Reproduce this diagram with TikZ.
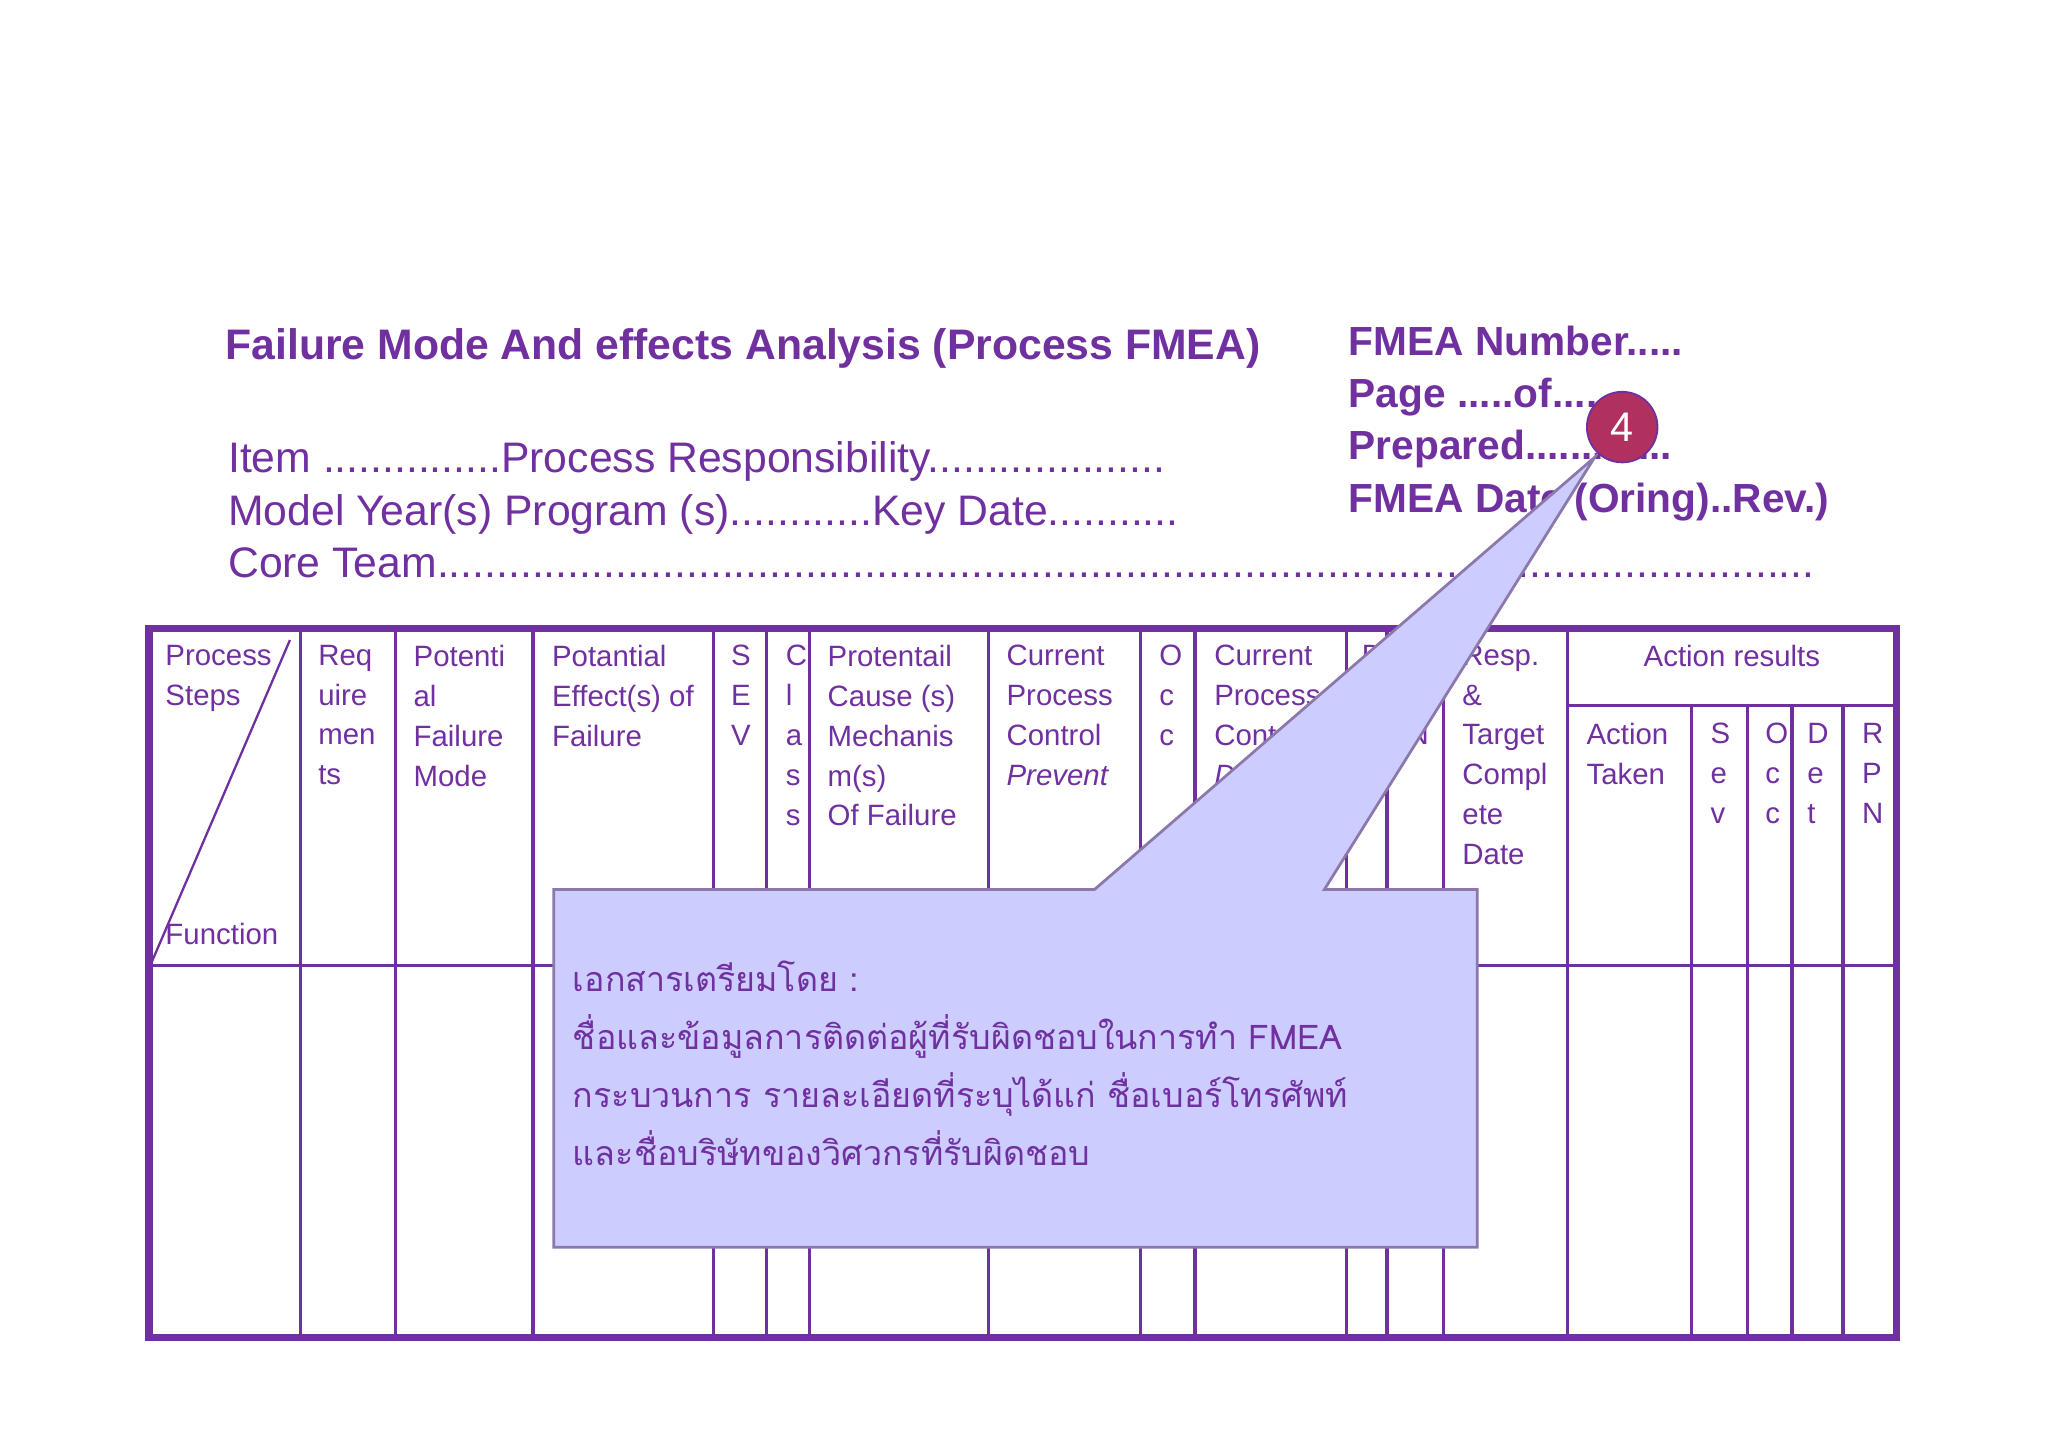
\documentclass[tikz,border=0pt]{standalone}
\usepackage{fontspec}
\setmainfont{Liberation Sans}
\newfontfamily\thaifont[Script=Thai]{Loma}
\definecolor{fmeapurple}{RGB}{112,48,160}
\definecolor{calloutfill}{RGB}{204,204,255}
\definecolor{calloutline}{RGB}{140,120,170}
\definecolor{badge}{RGB}{176,48,96}
\tikzset{
  grid line/.style={draw=fmeapurple, line width=0.7pt},
  colhead/.style={anchor=north west, inner sep=0pt, align=left, text=fmeapurple,
    font=\fontsize{6.4}{8.7}\selectfont},
  titletext/.style={anchor=base west, inner sep=0pt, text=fmeapurple,
    font=\fontsize{8.85}{10}\selectfont\bfseries},
  infotext/.style={anchor=base west, inner sep=0pt, text=fmeapurple,
    font=\fontsize{9.3}{10}\selectfont},
}
\begin{document}
\begin{tikzpicture}[x=0.01cm, y=-0.01cm]
  \useasboundingbox (0,0) rectangle (1568,1109);
  % heading block
  \node (title) [titletext, font=\fontsize{9.3}{10}\selectfont\bfseries] at (172,275) {Failure Mode And effects Analysis (Process FMEA)};
  \node (item) [infotext] at (174,362) {Item ...............Process Responsibility....................};
  \node (model) [infotext] at (174,402) {Model Year(s) Program (s)............Key Date...........};
  \node (team) [infotext] at (174,442) {Core Team....................................................................................................................};
  \node (number) [titletext] at (1032,272) {FMEA Number.....};
  \node (page) [titletext] at (1032,312) {Page .....of.......};
  \node (prepared) [titletext] at (1032,352) {Prepared.............};
  \node (date) [titletext] at (1032,392) {FMEA Date (Oring)..Rev.)};
  % table frame
  \draw[grid line, line width=1.6pt] (114,481) rectangle (1452,1024);
  \draw[grid line] (114,739) -- (1452,739);
  \draw[grid line] (1200,540) -- (1452,540);
  \foreach \cx in {230,303,408,546,587,620,757,873,915,1031,1062,1105,1200}
    \draw[grid line] (\cx,481) -- (\cx,1024);
  \foreach \cx in {1295,1338,1372,1411}
    \draw[grid line] (\cx,540) -- (\cx,1024);
  \draw[fmeapurple, line width=0.5pt] (222,490) -- (116,737);
  % column headings
  \node (steps) [colhead] at (126,493) {Process\\Steps};
  \node (func) [colhead, anchor=base west] at (126,723) {Function};
  \node (req) [colhead] at (243,493) {Req\\uire\\men\\ts};
  \node (mode) [colhead] at (316,493) {Potenti\\al\\Failure\\Mode};
  \node (effect) [colhead] at (422,493) {Potantial\\Effect(s) of\\Failure};
  \node (sev) [colhead] at (559,493) {S\\E\\V};
  \node (cls) [colhead] at (601,493) {C\\l\\a\\s\\s};
  \node (cause) [colhead] at (633,493) {Protentail\\Cause (s)\\Mechanis\\m(s)\\Of Failure};
  \node (prev) [colhead] at (770,493) {Current\\Process\\Control\\\itshape Prevent};
  \node (occ) [colhead] at (887,493) {O\\c\\c};
  \node (detc) [colhead] at (929,493) {Current\\Process\\Control\\\itshape Detect};
  \node (det) [colhead] at (1042,493) {D\\e\\t};
  \node (rpn) [colhead] at (1077,493) {R\\P\\N};
  \node (resp) [colhead] at (1119,493) {Resp.\\\&\\Target\\Compl\\ete\\Date};
  \node (results) [colhead, anchor=north] at (1326,493) {Action results};
  \node (taken) [colhead] at (1214,553) {Action\\Taken};
  \node (sev2) [colhead] at (1309,553) {S\\e\\v};
  \node (occ2) [colhead] at (1351,553) {O\\c\\c};
  \node (det2) [colhead] at (1383,553) {D\\e\\t};
  \node (rpn2) [colhead] at (1425,553) {R\\P\\N};
  % callout
  \coordinate (tip) at (1221,350);
  \draw[calloutline, fill=calloutfill, line width=0.6pt]
    (424,681) -- (838,681) -- (tip) -- (1014,681) -- (1131,681) -- (1131,955) -- (424,955) -- cycle;
  \node (note) [anchor=north west, inner sep=0pt, align=left, text=fmeapurple,
    font=\thaifont\fontsize{7.4}{12.6}\selectfont] at (438,735)
    {เอกสารเตรียมโดย :\\
     ชื่อและข้อมูลการติดต่อผู้ที่รับผิดชอบในการทำ FMEA\\
     กระบวนการ รายละเอียดที่ระบุได้แก่ ชื่อเบอร์โทรศัพท์\\
     และชื่อบริษัทของวิศวกรที่รับผิดชอบ};
  \node (num) [circle, fill=badge, draw=fmeapurple, minimum size=0.54cm, inner sep=0pt,
    text=white, font=\fontsize{9}{10}\selectfont] at (1242,327) {4};
\end{tikzpicture}
\end{document}
